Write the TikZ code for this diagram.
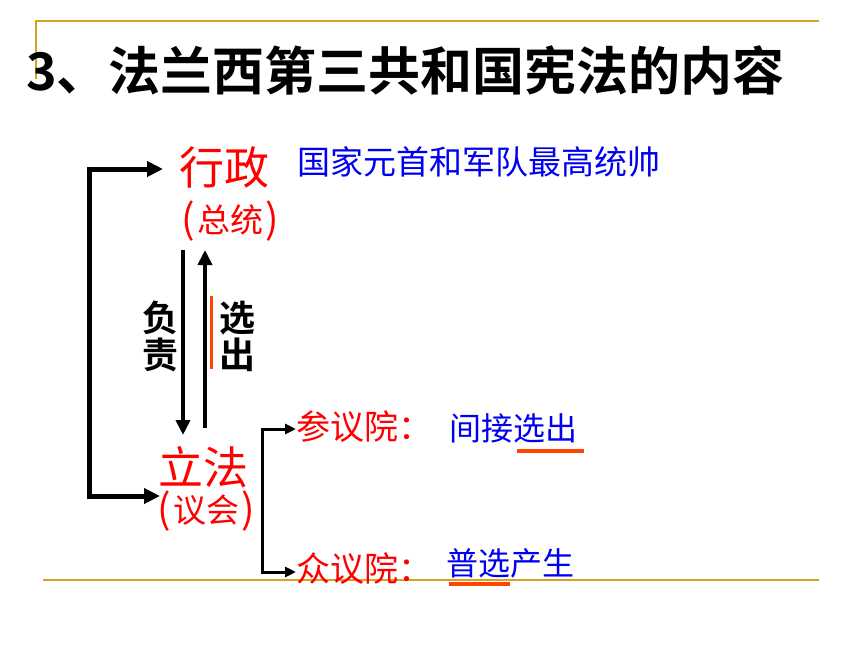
\documentclass[tikz,border=0pt]{standalone}
\usepackage{fontspec}
\setmainfont{Noto Sans CJK SC}
\newfontfamily\cjk{Noto Sans CJK SC}
\newfontfamily\cjkb{Noto Sans CJK SC Bold}
\usetikzlibrary{arrows.meta}
\definecolor{goldline}{RGB}{214,163,32}
\definecolor{hlorange}{RGB}{255,70,0}
\definecolor{txtred}{RGB}{255,0,0}
\definecolor{txtblue}{RGB}{0,0,240}
\newcommand{\bigparen}[1]{{\fontsize{40}{40}\selectfont\raisebox{-1pt}{#1}}}
\tikzset{
  redtxt/.style={text=txtred, inner sep=0pt, outer sep=0pt},
  bluetxt/.style={text=txtblue, inner sep=0pt, outer sep=0pt},
  blacktxt/.style={text=black, inner sep=0pt, outer sep=0pt},
  bigarrow/.style={draw=black, line width=5pt, -{Triangle[length=16pt,width=15pt]}},
  midarrow/.style={draw=black, line width=4pt, -{Triangle[length=15pt,width=14pt]}},
  brkarrow/.style={draw=black, line width=3pt, -{Triangle[length=11pt,width=10pt]}},
  hline/.style={draw=hlorange, line width=3.5pt},
  frameline/.style={draw=goldline, line width=2pt},
}
\begin{document}
\begin{tikzpicture}[x=1pt,y=-1pt]
\path[use as bounding box, fill=white] (0,0) rectangle (860,645);
% frame lines
\coordinate (ft0) at (36,79);
\coordinate (ft1) at (36,21);
\coordinate (ft2) at (819,21);
\coordinate (fb1) at (43,580);
\coordinate (fb2) at (819,580);
\draw[frameline] (ft0) -- (ft1) -- (ft2);
\draw[frameline, line width=2.5pt] (fb1) -- (fb2);
% title
\node[blacktxt, anchor=west, font=\cjkb\fontsize{52}{52}\selectfont] (title) at (26,70) {3、法兰西第三共和国宪法的内容};
% executive
\node[redtxt, font=\cjk\fontsize{45}{45}\selectfont] (xz) at (224,167) {行政};
\node[redtxt, font=\cjk\fontsize{33}{33}\selectfont] (zt) at (230,221) {\bigparen{(}\kern2pt总统\kern2pt\bigparen{)}};
\node[bluetxt, anchor=west, font=\cjk\fontsize{33}{33}\selectfont] (desc) at (297,162) {国家元首和军队最高统帅};
% vertical labels
\node[blacktxt, align=center, font=\cjkb\fontsize{36}{37}\selectfont] (fz) at (160,336) {负\\责};
\node[blacktxt, align=center, font=\cjkb\fontsize{36}{37}\selectfont] (xc) at (237,336) {选\\出};
% legislature
\node[redtxt, font=\cjk\fontsize{45}{45}\selectfont] (lf) at (203,467) {立法};
\node[redtxt, font=\cjk\fontsize{33}{33}\selectfont] (yh) at (206,511) {\bigparen{(}\kern2pt议会\kern2pt\bigparen{)}};
% chambers
\node[redtxt, anchor=west, font=\cjk\fontsize{34}{34}\selectfont] (cy) at (296,427) {参议院：};
\node[bluetxt, anchor=west, font=\cjk\fontsize{32}{32}\selectfont] (cyd) at (449,428) {间接选出};
\node[redtxt, anchor=west, font=\cjk\fontsize{34}{34}\selectfont] (zy) at (296,569) {众议院：};
\node[bluetxt, anchor=west, font=\cjk\fontsize{32}{32}\selectfont] (zyd) at (446,563) {普选产生};
% big left arrow (both ends)
\coordinate (ltop) at (163,169);
\coordinate (lc1) at (89,169);
\coordinate (lc2) at (89,496);
\coordinate (lbot) at (160,496);
\draw[bigarrow, {Triangle[length=16pt,width=15pt]}-{Triangle[length=16pt,width=15pt]}, line join=miter] (ltop) -- (lc1) -- (lc2) -- (lbot);
% down arrow and up arrow
\coordinate (dtop) at (183,250);
\coordinate (dbot) at (183,435);
\draw[midarrow] (dtop) -- (dbot);
\coordinate (ubot) at (205,428);
\coordinate (utop) at (205,250);
\draw[midarrow] (ubot) -- (utop);
% orange mark beside 选出
\coordinate (om1) at (211,296);
\coordinate (om2) at (211,369);
\draw[hline, line width=3pt] (om1) -- (om2);
% bracket
\coordinate (bk1) at (262,429);
\coordinate (bk2) at (262,572);
\coordinate (bt1) at (296,429);
\coordinate (bt2) at (296,572);
\draw[brkarrow, {Triangle[length=11pt,width=10pt]}-{Triangle[length=11pt,width=10pt]}, line join=miter] (bt1) -- (bk1) -- (bk2) -- (bt2);
% underlines
\coordinate (u1a) at (517,451);
\coordinate (u1b) at (584,451);
\draw[hline] (u1a) -- (u1b);
\coordinate (u2a) at (449,584);
\coordinate (u2b) at (510,584);
\draw[hline] (u2a) -- (u2b);
\end{tikzpicture}
\end{document}
